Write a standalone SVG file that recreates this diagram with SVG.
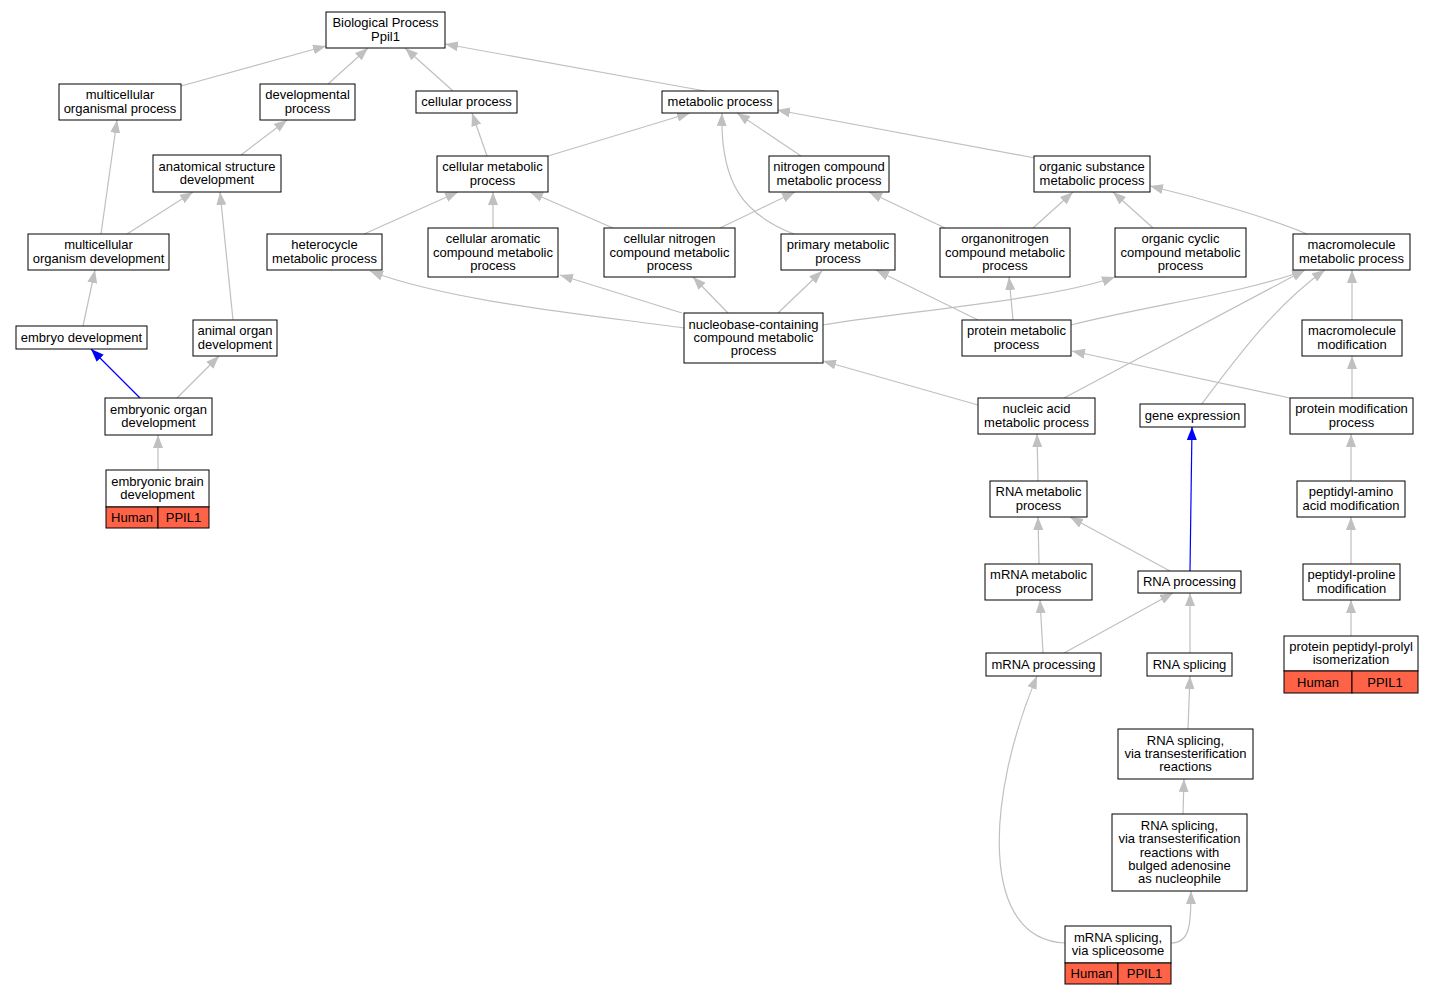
<svg xmlns="http://www.w3.org/2000/svg" width="1433" height="995" viewBox="0 0 1433 995">
<style>
.b{fill:#fff;stroke:#000;stroke-width:1}
.h{fill:#ff6347;stroke:#000;stroke-width:1}
.t{font-family:"Liberation Sans",Arial,sans-serif;font-size:13px;text-anchor:middle;fill:#000}
.e{fill:none;stroke:#c0c0c0;stroke-width:1.2;marker-end:url(#ag)}
.bl{fill:none;stroke:#0000ff;stroke-width:1.2;marker-end:url(#ab)}
</style>
<defs>
<marker id="ag" viewBox="0 0 13 10" refX="13" refY="5" markerWidth="13" markerHeight="10" markerUnits="userSpaceOnUse" orient="auto"><path d="M0,0 L13,5 L0,10 z" fill="#c0c0c0"/></marker>
<marker id="ab" viewBox="0 0 13 10" refX="13" refY="5" markerWidth="13" markerHeight="10" markerUnits="userSpaceOnUse" orient="auto"><path d="M0,0 L13,5 L0,10 z" fill="#0000ff"/></marker>
</defs>
<rect x="0" y="0" width="1433" height="995" fill="#fff"/>
<g id="edges">
<path class="e" d="M181,86 L326,46"/>
<path class="e" d="M328,84 L368,48"/>
<path class="e" d="M453,91 L405,48"/>
<path class="e" d="M705,91 L445,44"/>
<path class="e" d="M241,155 L287,120"/>
<path class="e" d="M101,234 L117,120"/>
<path class="e" d="M127,234 L193,192"/>
<path class="e" d="M233,320 L220,192"/>
<path class="bl" d="M140,398 L91,349"/>
<path class="e" d="M177,398 L219,356"/>
<path class="e" d="M83,326 L95,270"/>
<path class="e" d="M158,470 L158,435"/>
<path class="e" d="M487,156 L472,113"/>
<path class="e" d="M548,156 L690,113"/>
<path class="e" d="M801,156 L737,113"/>
<path class="e" d="M794,234 C745,215 720,185 722,113"/>
<path class="e" d="M1035,158 L777,110"/>
<path class="e" d="M364,234 L458,192"/>
<path class="e" d="M493,228 L493,192"/>
<path class="e" d="M613,228 L530,192"/>
<path class="e" d="M720,228 L795,192"/>
<path class="e" d="M945,228 L869,192"/>
<path class="e" d="M1033,228 L1073,192"/>
<path class="e" d="M1153,228 L1113,192"/>
<path class="e" d="M1307,234 C1270,218 1200,198 1150,186"/>
<path class="e" d="M684,328 C600,316 450,302 370,271"/>
<path class="e" d="M682,313 L560,275"/>
<path class="e" d="M728,313 L693,277"/>
<path class="e" d="M778,313 L822,271"/>
<path class="e" d="M823,325 C900,312 1050,300 1115,277"/>
<path class="e" d="M978,320 L876,270"/>
<path class="e" d="M1013,320 L1009,277"/>
<path class="e" d="M1071,325 C1150,305 1250,292 1305,270"/>
<path class="e" d="M1352,320 L1352,270"/>
<path class="e" d="M978,405 L823,361"/>
<path class="e" d="M1064,398 L1305,270"/>
<path class="e" d="M1201,405 C1235,360 1275,305 1325,270"/>
<path class="e" d="M1290,398 L1072,351"/>
<path class="e" d="M1352,398 L1352,356"/>
<path class="e" d="M1351,481 L1351,434"/>
<path class="e" d="M1351,564 L1351,517"/>
<path class="e" d="M1351,636 L1351,600"/>
<path class="e" d="M1038,481 L1037,434"/>
<path class="e" d="M1039,564 L1038,517"/>
<path class="e" d="M1170,571 L1070,517"/>
<path class="bl" d="M1190,571 L1192,427"/>
<path class="e" d="M1043,653 L1040,600"/>
<path class="e" d="M1064,653 L1173,593"/>
<path class="e" d="M1190,653 L1190,593"/>
<path class="e" d="M1188,729 L1190,676"/>
<path class="e" d="M1183,814 L1184,779"/>
<path class="e" d="M1171,943 C1190,943 1191,925 1191,891"/>
<path class="e" d="M1065,943 C980,940 985,800 1037,676"/>
</g>
<g id="n_bp"><rect class="b" x="326" y="12" width="119" height="36"/><text class="t" x="385.5" y="27.4">Biological Process</text><text class="t" x="385.5" y="40.7">Ppil1</text></g>
<g id="n_mop"><rect class="b" x="59" y="84" width="122" height="36"/><text class="t" x="120" y="99.4">multicellular</text><text class="t" x="120" y="112.7">organismal process</text></g>
<g id="n_dev"><rect class="b" x="260" y="84" width="95" height="36"/><text class="t" x="307.5" y="99.4">developmental</text><text class="t" x="307.5" y="112.7">process</text></g>
<g id="n_cp"><rect class="b" x="416" y="91" width="101" height="22"/><text class="t" x="466.5" y="106">cellular process</text></g>
<g id="n_mp"><rect class="b" x="662" y="91" width="116" height="22"/><text class="t" x="720" y="106">metabolic process</text></g>
<g id="n_asd"><rect class="b" x="153" y="155" width="128" height="37"/><text class="t" x="217" y="170.9">anatomical structure</text><text class="t" x="217" y="184.2">development</text></g>
<g id="n_cmp"><rect class="b" x="437" y="156" width="111" height="36"/><text class="t" x="492.5" y="171.4">cellular metabolic</text><text class="t" x="492.5" y="184.7">process</text></g>
<g id="n_ncmp"><rect class="b" x="769" y="156" width="120" height="36"/><text class="t" x="829" y="171.4">nitrogen compound</text><text class="t" x="829" y="184.7">metabolic process</text></g>
<g id="n_osmp"><rect class="b" x="1034" y="156" width="116" height="36"/><text class="t" x="1092" y="171.4">organic substance</text><text class="t" x="1092" y="184.7">metabolic process</text></g>
<g id="n_mod"><rect class="b" x="28" y="234" width="141" height="36"/><text class="t" x="98.5" y="249.4">multicellular</text><text class="t" x="98.5" y="262.7">organism development</text></g>
<g id="n_hmp"><rect class="b" x="267" y="234" width="115" height="36"/><text class="t" x="324.5" y="249.4">heterocycle</text><text class="t" x="324.5" y="262.7">metabolic process</text></g>
<g id="n_cacmp"><rect class="b" x="428" y="228" width="130" height="49"/><text class="t" x="493" y="243.2">cellular aromatic</text><text class="t" x="493" y="256.5">compound metabolic</text><text class="t" x="493" y="269.8">process</text></g>
<g id="n_cncmp"><rect class="b" x="604" y="228" width="131" height="49"/><text class="t" x="669.5" y="243.2">cellular nitrogen</text><text class="t" x="669.5" y="256.5">compound metabolic</text><text class="t" x="669.5" y="269.8">process</text></g>
<g id="n_pmp"><rect class="b" x="781" y="234" width="114" height="36"/><text class="t" x="838" y="249.4">primary metabolic</text><text class="t" x="838" y="262.7">process</text></g>
<g id="n_oncmp"><rect class="b" x="940" y="228" width="130" height="49"/><text class="t" x="1005" y="243.2">organonitrogen</text><text class="t" x="1005" y="256.5">compound metabolic</text><text class="t" x="1005" y="269.8">process</text></g>
<g id="n_occmp"><rect class="b" x="1115" y="228" width="131" height="49"/><text class="t" x="1180.5" y="243.2">organic cyclic</text><text class="t" x="1180.5" y="256.5">compound metabolic</text><text class="t" x="1180.5" y="269.8">process</text></g>
<g id="n_mmp"><rect class="b" x="1293" y="234" width="117" height="36"/><text class="t" x="1351.5" y="249.4">macromolecule</text><text class="t" x="1351.5" y="262.7">metabolic process</text></g>
<g id="n_ed"><rect class="b" x="16" y="326" width="131" height="23"/><text class="t" x="81.5" y="341.5">embryo development</text></g>
<g id="n_aod"><rect class="b" x="193" y="320" width="84" height="36"/><text class="t" x="235" y="335.4">animal organ</text><text class="t" x="235" y="348.7">development</text></g>
<g id="n_nbc"><rect class="b" x="684" y="313" width="139" height="50"/><text class="t" x="753.5" y="328.7">nucleobase-containing</text><text class="t" x="753.5" y="342">compound metabolic</text><text class="t" x="753.5" y="355.3">process</text></g>
<g id="n_prmp"><rect class="b" x="962" y="320" width="109" height="36"/><text class="t" x="1016.5" y="335.4">protein metabolic</text><text class="t" x="1016.5" y="348.7">process</text></g>
<g id="n_mm"><rect class="b" x="1302" y="320" width="100" height="36"/><text class="t" x="1352" y="335.4">macromolecule</text><text class="t" x="1352" y="348.7">modification</text></g>
<g id="n_eod"><rect class="b" x="105" y="398" width="107" height="37"/><text class="t" x="158.5" y="413.9">embryonic organ</text><text class="t" x="158.5" y="427.2">development</text></g>
<g id="n_namp"><rect class="b" x="978" y="398" width="117" height="36"/><text class="t" x="1036.5" y="413.4">nucleic acid</text><text class="t" x="1036.5" y="426.7">metabolic process</text></g>
<g id="n_ge"><rect class="b" x="1140" y="404" width="105" height="23"/><text class="t" x="1192.5" y="419.5">gene expression</text></g>
<g id="n_pmod"><rect class="b" x="1290" y="398" width="123" height="36"/><text class="t" x="1351.5" y="413.4">protein modification</text><text class="t" x="1351.5" y="426.7">process</text></g>
<g id="n_ebd"><rect class="b" x="106" y="470" width="103" height="37"/><rect class="h" x="106" y="507" width="52" height="21"/><rect class="h" x="158" y="507" width="51" height="21"/><text class="t" x="157.5" y="485.9">embryonic brain</text><text class="t" x="157.5" y="499.2">development</text><text class="t" x="132" y="522">Human</text><text class="t" x="183.5" y="522">PPIL1</text></g>
<g id="n_rmp"><rect class="b" x="990" y="481" width="97" height="36"/><text class="t" x="1038.5" y="496.4">RNA metabolic</text><text class="t" x="1038.5" y="509.7">process</text></g>
<g id="n_paam"><rect class="b" x="1297" y="481" width="108" height="36"/><text class="t" x="1351" y="496.4">peptidyl-amino</text><text class="t" x="1351" y="509.7">acid modification</text></g>
<g id="n_mrmp"><rect class="b" x="985" y="564" width="107" height="36"/><text class="t" x="1038.5" y="579.4">mRNA metabolic</text><text class="t" x="1038.5" y="592.7">process</text></g>
<g id="n_rp"><rect class="b" x="1138" y="571" width="103" height="22"/><text class="t" x="1189.5" y="586">RNA processing</text></g>
<g id="n_ppm"><rect class="b" x="1303" y="564" width="97" height="36"/><text class="t" x="1351.5" y="579.4">peptidyl-proline</text><text class="t" x="1351.5" y="592.7">modification</text></g>
<g id="n_mrp"><rect class="b" x="986" y="653" width="115" height="23"/><text class="t" x="1043.5" y="668.5">mRNA processing</text></g>
<g id="n_rs"><rect class="b" x="1147" y="653" width="85" height="23"/><text class="t" x="1189.5" y="668.5">RNA splicing</text></g>
<g id="n_ppi"><rect class="b" x="1284" y="636" width="134" height="35"/><rect class="h" x="1284" y="671" width="68" height="22"/><rect class="h" x="1352" y="671" width="66" height="22"/><text class="t" x="1351" y="650.9">protein peptidyl-prolyl</text><text class="t" x="1351" y="664.2">isomerization</text><text class="t" x="1318" y="686.5">Human</text><text class="t" x="1385" y="686.5">PPIL1</text></g>
<g id="n_rst"><rect class="b" x="1118" y="729" width="135" height="50"/><text class="t" x="1185.5" y="744.7">RNA splicing,</text><text class="t" x="1185.5" y="758">via transesterification</text><text class="t" x="1185.5" y="771.3">reactions</text></g>
<g id="n_rsn"><rect class="b" x="1112" y="814" width="135" height="77"/><text class="t" x="1179.5" y="829.9">RNA splicing,</text><text class="t" x="1179.5" y="843.2">via transesterification</text><text class="t" x="1179.5" y="856.5">reactions with</text><text class="t" x="1179.5" y="869.8">bulged adenosine</text><text class="t" x="1179.5" y="883.1">as nucleophile</text></g>
<g id="n_mss"><rect class="b" x="1065" y="926" width="106" height="37"/><rect class="h" x="1065" y="963" width="53" height="21"/><rect class="h" x="1118" y="963" width="53" height="21"/><text class="t" x="1118" y="941.9">mRNA splicing,</text><text class="t" x="1118" y="955.2">via spliceosome</text><text class="t" x="1091.5" y="978">Human</text><text class="t" x="1144.5" y="978">PPIL1</text></g>
</svg>
